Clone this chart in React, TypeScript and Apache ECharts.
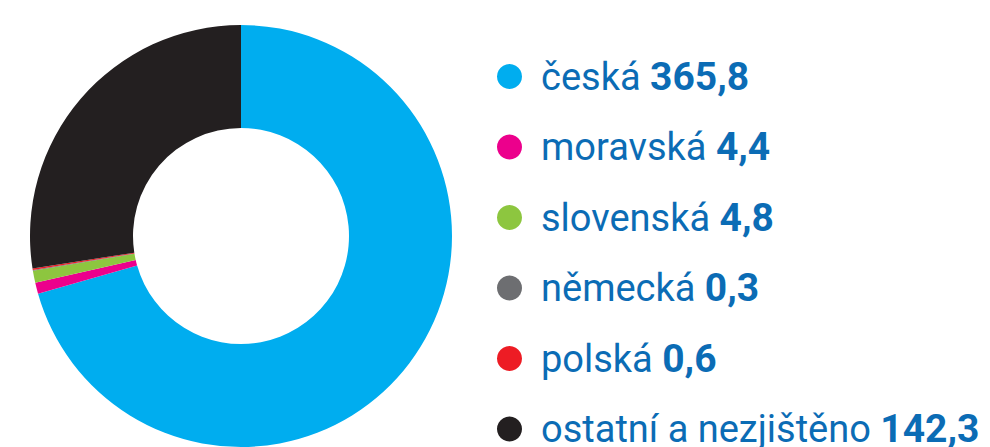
import React, { useEffect, useRef } from "react";
import * as echarts from "echarts";

const categories = ["česká", "moravská", "slovenská", "německá", "polská", "ostatní a nezjištěno"];
const values = [365.8, 4.4, 4.8, 0.3, 0.6, 142.3];
const colors = ["#00adef", "#ec008c", "#8dc63f", "#6d6e71", "#ed1c24", "#231f20"];

const fmt = (v: number) => v.toFixed(1).replace(".", ",");

export default function App() {
  const ref = useRef<HTMLDivElement>(null);
  useEffect(() => {
    if (!ref.current) return;
    const chart = echarts.init(ref.current, undefined, { renderer: "svg" });
    chart.setOption({
      animation: false,
      backgroundColor: "#ffffff",
      color: colors,
      legend: {
        orient: "vertical",
        left: 497,
        top: 57,
        height: 420,
        padding: 0,
        itemWidth: 25,
        itemHeight: 25,
        itemGap: 31.5,
        icon: "circle",
        selectedMode: false,
        data: categories,
        textStyle: {
          padding: [0, 0, 0, 14],
          rich: {
            a: { fontFamily: "Roboto", fontSize: 38, color: "#0b6cb5" },
            b: { fontFamily: "Roboto", fontWeight: "bold", fontSize: 39, color: "#0b6cb5" },
          },
        },
        formatter: (name: string) => {
          const i = categories.indexOf(name);
          return `{a|${name} }{b|${fmt(values[i])}}`;
        },
      },
      series: [
        {
          type: "pie",
          center: [241, 236],
          radius: [108, 211],
          startAngle: 90,
          clockwise: true,
          label: { show: false },
          labelLine: { show: false },
          emphasis: { disabled: true },
          itemStyle: { borderWidth: 0 },
          data: categories.map((c, i) => ({ name: c, value: values[i] })),
        },
      ],
    });
    return () => chart.dispose();
  }, []);
  return (
    <div
      ref={ref}
      style={{ position: "fixed", left: 0, top: 0, width: 990, height: 447 }}
    />
  );
}
